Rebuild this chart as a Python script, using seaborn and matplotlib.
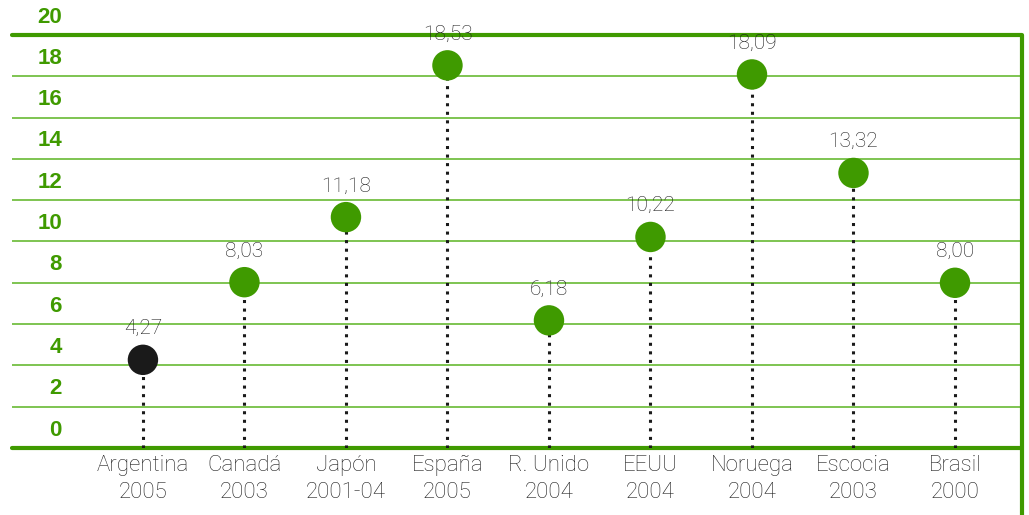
import matplotlib
matplotlib.use("Agg")
import matplotlib.pyplot as plt
import matplotlib.transforms as mtransforms
import seaborn as sns
import pandas as pd

paises = ["Argentina", "Canadá", "Japón", "España", "R. Unido", "EEUU", "Noruega", "Escocia", "Brasil"]
periodos = ["2005", "2003", "2001-04", "2005", "2004", "2004", "2004", "2003", "2000"]
valores = [4.27, 8.03, 11.18, 18.53, 6.18, 10.22, 18.09, 13.32, 8.00]
y_ticks = [0, 2, 4, 6, 8, 10, 12, 14, 16, 18, 20]

VERDE = "#3f9a00"
VERDE_CLARO = "#7ec451"
NEGRO = "#1a1a1a"
TEXTO = "#1e1e1e"

sns.set_theme(style="white")
plt.rcParams["font.family"] = ["Liberation Sans", "DejaVu Sans"]
LIGERA = ["Roboto", "Liberation Sans", "DejaVu Sans"]

df = pd.DataFrame({
    "pos": range(len(paises)),
    "valor": valores,
    "etiqueta": [f"{p}\n{a}" for p, a in zip(paises, periodos)],
    "grupo": ["Argentina" if p == "Argentina" else "resto" for p in paises],
})

fig = plt.figure(figsize=(10.29, 5.15), dpi=100)
ax = fig.add_axes([12 / 1029, 1 - 448 / 515, 1010 / 1029, 413 / 515])
ax.set_xlim(-1.29, 8.66)
ax.set_ylim(0, 20)

# horizontal rules: light inner lines, heavier top and base
for v in y_ticks[1:-1]:
    ax.axhline(v, color=VERDE_CLARO, lw=1.4, zorder=1)
ax.axhline(0, color=VERDE, lw=3, zorder=2, clip_on=False)
ax.axhline(20, color=VERDE, lw=3, zorder=2, clip_on=False)
# right border running down past the base
ax.plot([1, 1], [1.0, -0.165], transform=ax.transAxes, color=VERDE, lw=3,
        clip_on=False, solid_capstyle="butt", zorder=2)

# dotted stems from each point to the base
ax.vlines(df["pos"], 0, df["valor"], colors=NEGRO, linestyles=(0, (1, 1.8)),
          lw=2.2, zorder=3)

sns.scatterplot(data=df, x="pos", y="valor", hue="grupo",
                palette={"Argentina": NEGRO, "resto": VERDE},
                s=480, linewidth=0, legend=False, zorder=4, ax=ax)

for x, v in zip(df["pos"], valores):
    ax.annotate(f"{v:.2f}".replace(".", ","), (x, v), xytext=(0, 22.5),
                textcoords="offset points", ha="center", va="center",
                fontsize=15, fontweight="light", family=LIGERA, color=TEXTO)

# y labels sit in the band just above each rule
trans = mtransforms.blended_transform_factory(ax.transAxes, ax.transData)
for v in y_ticks:
    ax.text(50 / 1010, v + 0.87, str(v), transform=trans, ha="right", va="center",
            fontsize=16, fontweight="bold", color=VERDE)

ax.set_xticks(df["pos"])
ax.set_xticklabels(df["etiqueta"], fontsize=16, fontweight="light", family=LIGERA,
                   color=TEXTO, linespacing=1.4)
ax.tick_params(axis="x", length=0, pad=5)
ax.set_yticks([])
ax.set_xlabel("")
ax.set_ylabel("")
for s in ax.spines.values():
    s.set_visible(False)

fig.savefig("out.png", dpi=100)
